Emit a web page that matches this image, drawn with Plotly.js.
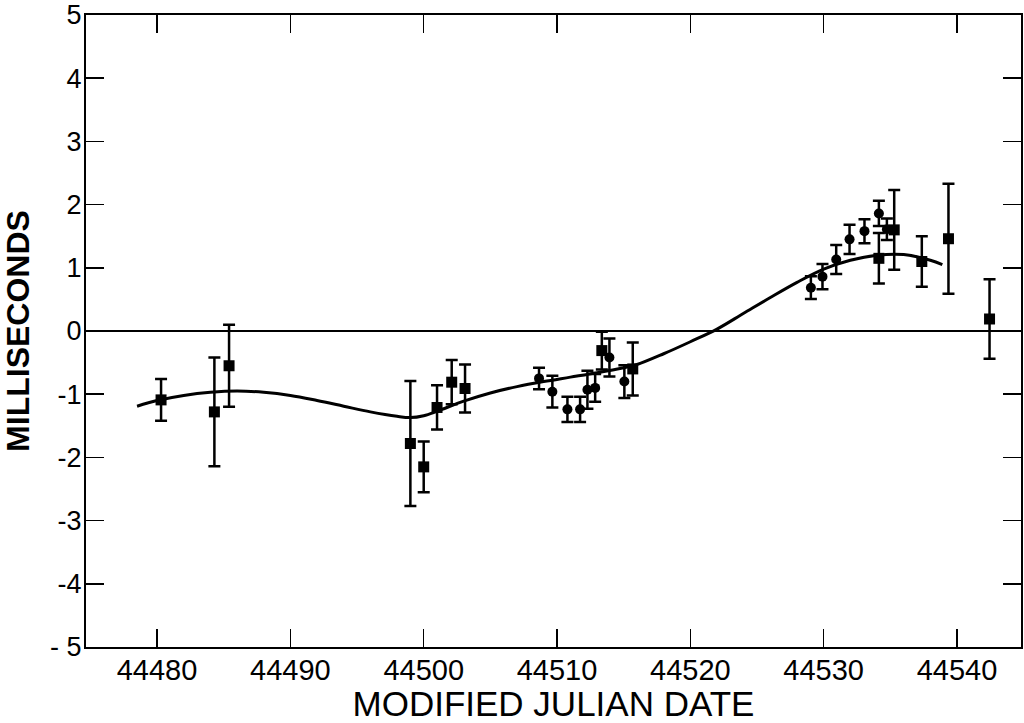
<!DOCTYPE html>
<html>
<head>
<meta charset="utf-8">
<script src="https://cdn.plot.ly/plotly-3.0.1.min.js"></script>
<style>
html,body{margin:0;padding:0;background:#fff;}
#chart{width:1024px;height:723px;}
</style>
</head>
<body>
<div id="chart"></div>
<script>
// Square-marker measurements
const squareX = [44480.3, 44484.3, 44485.4, 44499.0, 44500.0, 44501.0, 44502.1, 44503.1, 44513.36, 44515.68, 44534.14, 44535.29, 44537.36, 44539.36, 44542.44];
const squareY = [-1.09, -1.28, -0.55, -1.78, -2.15, -1.21, -0.81, -0.91, -0.31, -0.60, 1.15, 1.60, 1.10, 1.46, 0.19];
const squareErr = [0.33, 0.86, 0.65, 0.99, 0.40, 0.35, 0.35, 0.38, 0.30, 0.42, 0.40, 0.63, 0.40, 0.87, 0.63];

// Circle-marker measurements
const circleX = [44508.65, 44509.65, 44510.78, 44511.73, 44512.28, 44512.86, 44513.93, 44515.05, 44529.04, 44529.91, 44530.94, 44531.94, 44533.06, 44534.14, 44534.74];
const circleY = [-0.75, -0.96, -1.24, -1.24, -0.93, -0.90, -0.42, -0.80, 0.685, 0.86, 1.13, 1.45, 1.58, 1.86, 1.61];
const circleErr = [0.17, 0.25, 0.20, 0.20, 0.30, 0.22, 0.30, 0.26, 0.18, 0.20, 0.23, 0.23, 0.19, 0.20, 0.17];

// Fitted curve
const curveX = [44478.5, 44480.0, 44482.0, 44484.0, 44486.0, 44488.0, 44490.0, 44492.0, 44494.0, 44496.0, 44498.0, 44499.0, 44500.0, 44501.0, 44503.0, 44505.0, 44507.0, 44509.0, 44511.0, 44513.0, 44515.0, 44516.0, 44518.0, 44520.0, 44522.0, 44524.0, 44526.0, 44528.0, 44530.0, 44532.0, 44534.0, 44536.0, 44538.0, 44538.9];
const curveY = [-1.19, -1.10, -1.02, -0.97, -0.95, -0.97, -1.02, -1.10, -1.19, -1.28, -1.35, -1.37, -1.34, -1.27, -1.11, -0.98, -0.88, -0.80, -0.73, -0.66, -0.58, -0.53, -0.36, -0.17, 0.03, 0.28, 0.53, 0.77, 0.98, 1.12, 1.20, 1.21, 1.12, 1.05];

// Axis ticks
const xTickVals = [44480, 44490, 44500, 44510, 44520, 44530, 44540];
const xTickText = ['44480', '44490', '44500', '44510', '44520', '44530', '44540'];
const yTickVals = [-5, -4, -3, -2, -1, 0, 1, 2, 3, 4, 5];
const yTickText = ['- 5', '-4', '-3', '-2', '-1', '0', '1', '2', '3', '4', '5'];

const FONT = 'Liberation Sans, Arial, sans-serif';

const traces = [
  {
    x: curveX, y: curveY, type: 'scatter', mode: 'lines',
    line: {color: '#000', width: 3, shape: 'spline', smoothing: 1},
    hoverinfo: 'skip'
  },
  {
    x: squareX, y: squareY, type: 'scatter', mode: 'markers',
    marker: {symbol: 'square', size: 11, color: '#000'},
    error_y: {type: 'data', array: squareErr, visible: true, color: '#000', thickness: 2.5, width: 6}
  },
  {
    x: circleX, y: circleY, type: 'scatter', mode: 'markers',
    marker: {symbol: 'circle', size: 10, color: '#000'},
    error_y: {type: 'data', array: circleErr, visible: true, color: '#000', thickness: 2.5, width: 6}
  }
];

const layout = {
  width: 1024, height: 723,
  margin: {l: 86, r: 3, t: 15, b: 76},
  paper_bgcolor: '#fff', plot_bgcolor: '#fff',
  showlegend: false,
  font: {family: FONT, color: '#000'},
  xaxis: {
    range: [44474.67, 44544.8],
    tickmode: 'array', tickvals: xTickVals, ticktext: xTickText,
    ticks: 'inside', ticklen: 18, tickwidth: 1.5, tickcolor: '#000',
    showline: true, linecolor: '#000', linewidth: 2, mirror: 'ticks',
    showgrid: false, zeroline: false,
    tickfont: {family: FONT, size: 29, color: '#000'},
    ticklabelstandoff: -4,
    automargin: false,
    title: {text: 'MODIFIED JULIAN DATE', font: {family: FONT, size: 35, color: '#000'}, standoff: 6}
  },
  yaxis: {
    range: [-5, 5],
    tickmode: 'array', tickvals: yTickVals, ticktext: yTickText,
    ticks: 'inside', ticklen: 18, tickwidth: 1.5, tickcolor: '#000',
    showline: true, linecolor: '#000', linewidth: 2, mirror: 'ticks',
    showgrid: false,
    zeroline: true, zerolinecolor: '#000', zerolinewidth: 1.5,
    tickfont: {family: FONT, size: 27, color: '#000'},
    ticklabelstandoff: -3,
    automargin: false,
    title: {text: '<b>MILLISECONDS</b>', font: {family: FONT, size: 32, color: '#000'}, standoff: 12}
  }
};

Plotly.newPlot('chart', traces, layout, {displayModeBar: false, staticPlot: true});
</script>
</body>
</html>
